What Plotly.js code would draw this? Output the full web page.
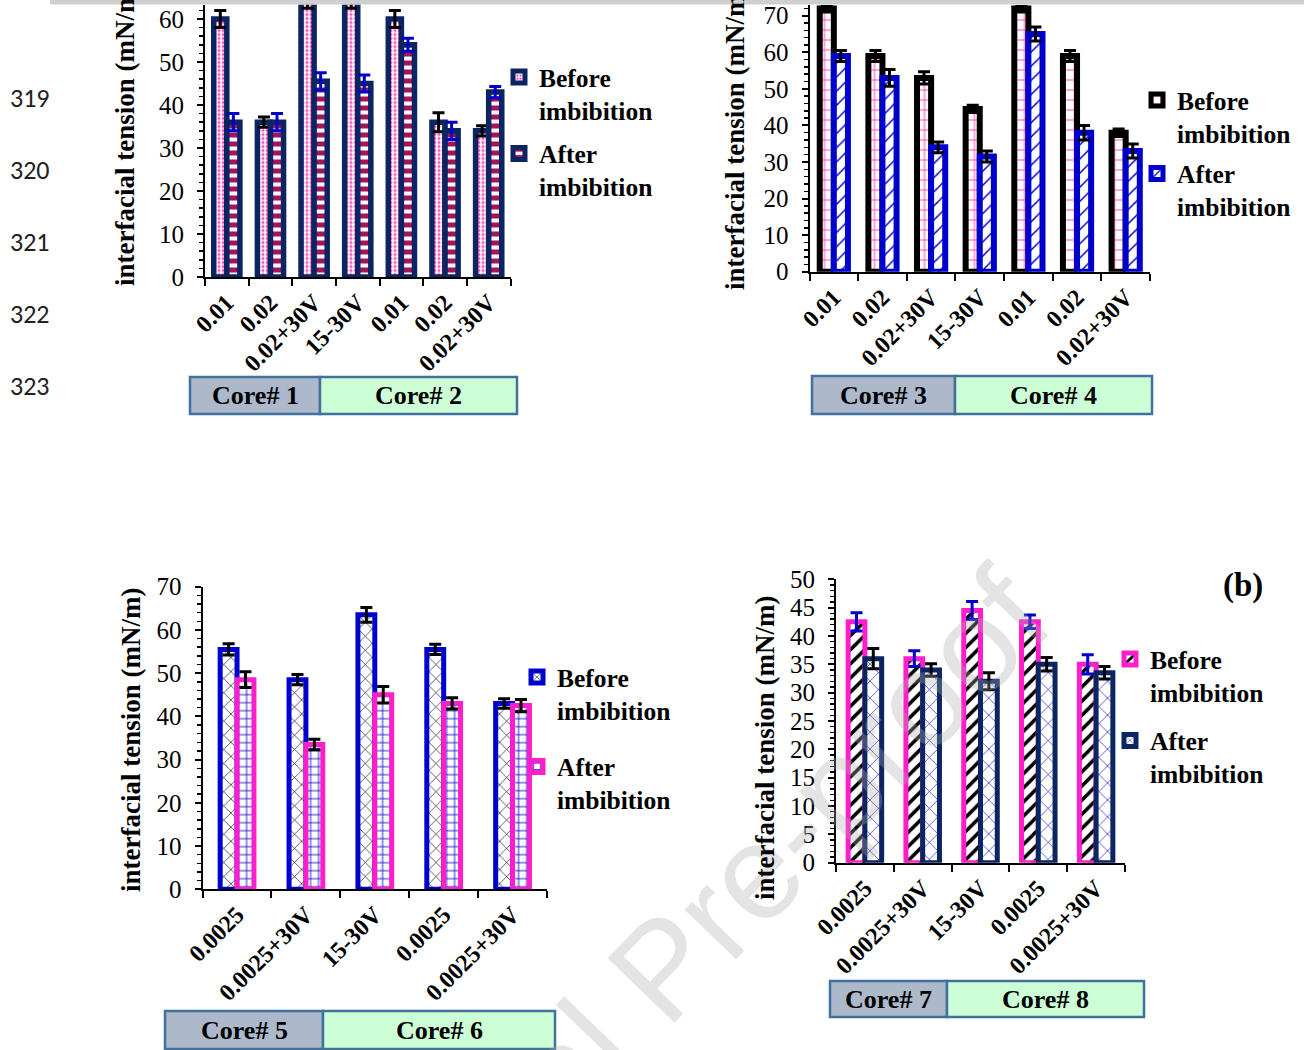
<!DOCTYPE html>
<html>
<head>
<meta charset="utf-8">
<script src="https://cdn.plot.ly/plotly-3.0.1.min.js"></script>
<style>html,body{margin:0;padding:0;background:#fff;}#chart{width:1304px;height:1050px;}</style>
</head>
<body>
<div id="chart"></div>
<script>
// ---------- data ----------
const seriesNames = ['Before<br>imbibition', 'After<br>imbibition'];

const labels12 = ['0.01', '0.02', '0.02+30V', '15-30V', '0.01', '0.02', '0.02+30V'];
const before12 = [60, 36, 64, 64, 60, 36, 34];
const beforeErr12 = [2, 1.2, 1.5, 1.5, 2, 2.2, 1.2];
const after12 = [36, 36, 45.5, 45, 54, 34, 43];
const afterErr12 = [2, 2, 2, 2, 1.5, 2, 1.3];

const labels34 = ['0.01', '0.02', '0.02+30V', '15-30V', '0.01', '0.02', '0.02+30V'];
const before34 = [72, 59, 53, 44.5, 72, 59, 38];
const beforeErr34 = [1, 1.5, 1.7, 1, 1, 1.5, 1];
const after34 = [59, 53, 34, 31.5, 65, 38, 33];
const afterErr34 = [1.5, 2.3, 1.5, 1.5, 1.9, 2, 1.9];

const labels56 = ['0.0025', '0.0025+30V', '15-30V', '0.0025', '0.0025+30V'];
const before56 = [55.5, 48.5, 63.5, 55.5, 43];
const beforeErr56 = [1.3, 1.2, 1.7, 1.2, 1.1];
const after56 = [48.5, 33.5, 45, 43, 42.5];
const afterErr56 = [1.8, 1.2, 1.9, 1.3, 1.4];

const labels78 = ['0.0025', '0.0025+30V', '15-30V', '0.0025', '0.0025+30V'];
const before78 = [42.5, 36, 44.5, 42.5, 35];
const beforeErr78 = [1.6, 1.4, 1.6, 1.2, 1.7];
const after78 = [36, 34, 32, 35, 33.5];
const afterErr78 = [1.8, 1.1, 1.5, 1.2, 1.1];

const coreLabels = ['Core# 1', 'Core# 2', 'Core# 3', 'Core# 4', 'Core# 5', 'Core# 6', 'Core# 7', 'Core# 8'];
const yTitle = 'interfacial tension (mN/m)';
const lineNumbers = ['319', '320', '321', '322', '323'];
const watermark = 'Journal Pre-proof';
const panelTag = '(b)';

// ---------- helpers ----------
const W = 1304, H = 1050;
const fx = p => p / W;
const fy = p => 1 - p / H;
const SERIF = 'Liberation Serif, Times New Roman, serif';
const NAVY = '#0B2562', BLUE = '#0000CC', MAG = '#FF1ECC', PINK = '#FF4FB8';
const ids = arr => arr.map((_, i) => 'k' + i);

function barTrace(x, y, err, errColor, name, xa, ya, lg, offset, width, lineColor, lw, pattern) {
  return {
    type: 'bar', x: x, y: y, name: name, xaxis: xa, yaxis: ya, legend: lg,
    legendgroup: lg + name, offset: offset, width: width,
    marker: {color: '#ffffff', line: {color: lineColor, width: lw}, pattern: pattern},
    error_y: {type: 'data', array: err, visible: true, color: errColor, thickness: 3, width: 6},
    cliponaxis: true
  };
}

const x12 = ids(labels12), x34 = ids(labels34), x56 = ids(labels56), x78 = ids(labels78);

const data = [
  barTrace(x12, before12, beforeErr12, '#000', seriesNames[0], 'x', 'y', 'legend', -0.3, 0.3, NAVY, 5.5,
    {shape: '.', fgcolor: PINK, bgcolor: '#fff', size: 4, solidity: 0.45}),
  barTrace(x12, after12, afterErr12, BLUE, seriesNames[1], 'x', 'y', 'legend', 0, 0.3, NAVY, 5.5,
    {shape: '-', fgcolor: '#A5125E', bgcolor: '#fff', size: 9, solidity: 0.55}),
  barTrace(x34, before34, beforeErr34, '#000', seriesNames[0], 'x2', 'y2', 'legend2', -0.29, 0.29, '#000', 6,
    {shape: '+', fgcolor: PINK, bgcolor: '#fff', size: 10, solidity: 0.2}),
  barTrace(x34, after34, afterErr34, '#000', seriesNames[1], 'x2', 'y2', 'legend2', 0, 0.29, BLUE, 6,
    {shape: '/', fgcolor: BLUE, bgcolor: '#fff', size: 10, solidity: 0.15}),
  barTrace(x56, before56, beforeErr56, '#000', seriesNames[0], 'x3', 'y3', 'legend3', -0.245, 0.245, BLUE, 5,
    {shape: 'x', fgcolor: '#000', bgcolor: '#fff', size: 10, solidity: 0.12}),
  barTrace(x56, after56, afterErr56, '#000', seriesNames[1], 'x3', 'y3', 'legend3', 0, 0.245, MAG, 5,
    {shape: '+', fgcolor: BLUE, bgcolor: '#fff', size: 8, solidity: 0.2}),
  barTrace(x78, before78, beforeErr78, BLUE, seriesNames[0], 'x4', 'y4', 'legend4', -0.29, 0.29, MAG, 5,
    {shape: '/', fgcolor: '#000', bgcolor: '#fff', size: 10, solidity: 0.35}),
  barTrace(x78, after78, afterErr78, '#000', seriesNames[1], 'x4', 'y4', 'legend4', 0, 0.29, NAVY, 5,
    {shape: 'x', fgcolor: BLUE, bgcolor: '#fff', size: 12, solidity: 0.1})
];

function xAxis(dom, yref, ids, labels) {
  return {
    domain: dom, anchor: yref, type: 'category', categoryorder: 'array', categoryarray: ids,
    tickvals: ids, ticktext: labels, tickangle: -45, tickson: 'boundaries',
    ticks: 'outside', ticklen: 7, tickwidth: 2, tickcolor: '#000',
    showline: true, linecolor: '#000', linewidth: 2, showgrid: false, zeroline: false,
    range: [-0.5, ids.length - 0.5],
    tickfont: {family: SERIF, size: 24, color: '#000', weight: 'bold'}
  };
}
function yAxis(dom, xref, range, dtick, minorDtick) {
  return {
    domain: dom, anchor: xref, range: range, dtick: dtick, tick0: 0,
    ticks: 'outside', ticklen: 6, tickwidth: 2, tickcolor: '#000', ticklabelstandoff: 8,
    minor: {ticks: 'outside', dtick: minorDtick, ticklen: 4, tickwidth: 1.5, tickcolor: '#000', showgrid: false},
    showline: true, linecolor: '#000', linewidth: 2, showgrid: false, zeroline: false,
    tickfont: {family: SERIF, size: 25, color: '#000'}
  };
}

function legendAt(xp, yp, gap) {
  return {
    x: fx(xp), y: fy(yp), xanchor: 'left', yanchor: 'top', bgcolor: 'rgba(0,0,0,0)',
    font: {family: SERIF, size: 25.5, color: '#000', weight: 'bold'},
    traceorder: 'grouped', tracegroupgap: gap, valign: 'top', itemwidth: 30, borderwidth: 0
  };
}

const boxes = [
  [190, 320, 377, 414, '#ADB9CA'], [320, 517, 377, 414, '#CCFFD6'],
  [812, 955, 376, 414, '#ADB9CA'], [955, 1152, 376, 414, '#CCFFD6'],
  [165, 323, 1011, 1049, '#ADB9CA'], [323, 555, 1011, 1049, '#CCFFD6'],
  [830, 947, 981, 1017, '#ADB9CA'], [947, 1144, 981, 1017, '#CCFFD6']
];

const shapes = boxes.map(b => ({
  type: 'rect', xref: 'paper', yref: 'paper', x0: fx(b[0]), x1: fx(b[1]), y0: fy(b[3]), y1: fy(b[2]),
  fillcolor: b[4], line: {color: '#41719C', width: 2.5}, layer: 'above'
}));
shapes.push({type: 'rect', xref: 'paper', yref: 'paper', x0: fx(50), x1: 1, y0: fy(4.5), y1: 1,
  fillcolor: '#CFCFD0', line: {width: 0}, layer: 'above'});

const annotations = [];
annotations.push({xref: 'paper', yref: 'paper', x: fx(662), y: fy(968), text: watermark, showarrow: false,
  textangle: -46, xanchor: 'center', yanchor: 'middle',
  font: {family: 'Liberation Sans, Arial, sans-serif', size: 135, color: 'rgba(170,170,170,0.32)'}});
boxes.forEach((b, i) => annotations.push({
  xref: 'paper', yref: 'paper', x: fx((b[0] + b[1]) / 2), y: fy((b[2] + b[3]) / 2),
  text: coreLabels[i], showarrow: false, xanchor: 'center', yanchor: 'middle',
  font: {family: SERIF, size: 26, color: '#000', weight: 'bold'}
}));
[[125, 134], [735, 138], [131, 740], [765, 748]].forEach(p => annotations.push({
  xref: 'paper', yref: 'paper', x: fx(p[0]), y: fy(p[1]), text: yTitle, textangle: -90, showarrow: false,
  xanchor: 'center', yanchor: 'middle', font: {family: SERIF, size: 27, color: '#000', weight: 'bold'}
}));
lineNumbers.forEach((t, i) => annotations.push({
  xref: 'paper', yref: 'paper', x: fx(30), y: fy(98 + 72 * i), text: t, showarrow: false,
  xanchor: 'center', yanchor: 'middle', font: {family: 'Carlito, Liberation Sans, sans-serif', size: 26, color: '#222'}
}));
annotations.push({xref: 'paper', yref: 'paper', x: fx(1243), y: fy(585), text: panelTag, showarrow: false,
  xanchor: 'center', yanchor: 'middle', font: {family: SERIF, size: 33, color: '#000', weight: 'bold'}});

const layout = {
  width: W, height: H, margin: {l: 0, r: 0, t: 0, b: 0}, paper_bgcolor: '#fff', plot_bgcolor: 'rgba(0,0,0,0)',
  barmode: 'group', showlegend: true,
  xaxis: xAxis([fx(205), fx(510.5)], 'y', x12, labels12),
  yaxis: yAxis([fy(277), fy(4.5)], 'x', [0, (277 - 4.5) / 4.3], 10, 2),
  xaxis2: xAxis([fx(809.5), fx(1150)], 'y2', x34, labels34),
  yaxis2: yAxis([fy(271.7), fy(5)], 'x2', [0, (271.7 - 5) / 3.657], 10, 2),
  xaxis3: xAxis([fx(202.6), fx(547)], 'y3', x56, labels56),
  yaxis3: yAxis([fy(889.3), fy(586.7)], 'x3', [0, 70], 10, 2),
  xaxis4: xAxis([fx(836), fx(1125)], 'y4', x78, labels78),
  yaxis4: yAxis([fy(862.7), fy(579.3)], 'x4', [0, 50], 5, 1),
  legend: legendAt(499, 54, 7),
  legend2: legendAt(1137, 77, 4),
  legend3: legendAt(517, 654, 20),
  legend4: legendAt(1110, 636, 12),
  shapes: shapes, annotations: annotations
};

Plotly.newPlot('chart', data, layout, {displayModeBar: false, staticPlot: true});
</script>
</body>
</html>
